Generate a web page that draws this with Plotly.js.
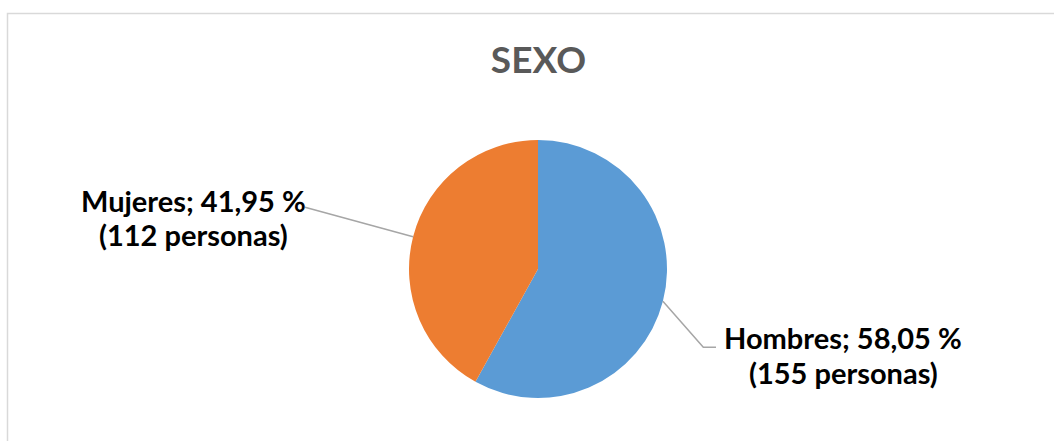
<!DOCTYPE html>
<html>
<head>
<meta charset="utf-8">
<script src="https://cdn.plot.ly/plotly-3.0.1.min.js"></script>
<style>
  html, body { margin: 0; padding: 0; background: #ffffff; }
  #chart { width: 1054px; height: 441px; }
</style>
</head>
<body>
<div id="chart"></div>
<script>
// ---- data ----
const chartTitle = "SEXO";
const categories = ["Hombres", "Mujeres"];
const counts = [155, 112];
const unitLabel = "personas";
const colors = ["#5B9BD5", "#ED7D31"];

// ---- layout helpers ----
const W = 1054, H = 441;
const px = v => v / W;
const py = v => 1 - v / H;

const cx = 538, cy = 269, R = 129;
const total = counts.reduce((a, b) => a + b, 0);
const pcts = counts.map(c => c / total * 100);
const fmtPct = p => p.toFixed(2).replace(".", ",") + " %";

// mid-angle of each slice (clockwise from 12 o'clock)
const midAngles = [];
let acc = 0;
counts.forEach(c => {
  const frac = c / total;
  midAngles.push((acc + frac / 2) * 2 * Math.PI);
  acc += frac;
});
const edgePt = a => [cx + R * Math.sin(a), cy - R * Math.cos(a)];

// label placement (style / position only)
const labelPos = [
  { x: 843, y1: 337, y2: 372, line: pt => [[pt[0], pt[1]], [703.3, 347.3], [716, 347.3]] },
  { x: 193.5, y1: 200, y2: 235, line: pt => [[pt[0], pt[1]], [305, 207.3]] }
];

const labelFont = { family: "Lato, 'Open Sans', sans-serif", size: 29, color: "#000000" };
const annotations = [];
categories.forEach((cat, i) => {
  const lines = [
    cat + "; " + fmtPct(pcts[i]),
    "(" + counts[i] + " " + unitLabel + ")"
  ];
  [labelPos[i].y1, labelPos[i].y2].forEach((yy, k) => {
    annotations.push({
      xref: "paper", yref: "paper",
      x: px(labelPos[i].x), y: py(yy),
      xanchor: "center", yanchor: "middle",
      showarrow: false, align: "center",
      text: "<b>" + lines[k] + "</b>",
      font: labelFont
    });
  });
});

const shapes = [];
// chart border
shapes.push({
  type: "rect", xref: "paper", yref: "paper",
  x0: px(7.5), x1: px(1060), y0: py(447), y1: py(13.5),
  line: { color: "#D9D9D9", width: 1.5 }, fillcolor: "rgba(0,0,0,0)", layer: "below"
});
// leader lines
categories.forEach((cat, i) => {
  const pts = labelPos[i].line(edgePt(midAngles[i]));
  const path = pts.map((p, k) => (k === 0 ? "M" : "L") + px(p[0]) + "," + py(p[1])).join(" ");
  shapes.push({
    type: "path", xref: "paper", yref: "paper", path: path,
    line: { color: "#A6A6A6", width: 1.5 }
  });
});

const trace = {
  type: "pie",
  labels: categories,
  values: counts,
  sort: false,
  direction: "clockwise",
  rotation: 0,
  textinfo: "none",
  hoverinfo: "label+percent+value",
  marker: { colors: colors, line: { width: 0 } },
  domain: { x: [px(cx - 200), px(cx + 200)], y: [py(cy + R), py(cy - R)] },
  showlegend: false
};

const layout = {
  width: W, height: H,
  margin: { l: 0, r: 0, t: 0, b: 0 },
  paper_bgcolor: "#ffffff",
  title: {
    text: "<b>" + chartTitle + "</b>",
    x: px(538.5), xanchor: "center",
    y: py(60.4), yanchor: "middle", yref: "container", xref: "container",
    font: { family: "Lato, 'Open Sans', sans-serif", size: 37, color: "#595959" }
  },
  showlegend: false,
  annotations: annotations,
  shapes: shapes
};

Plotly.newPlot("chart", [trace], layout, { displayModeBar: false, staticPlot: true });
</script>
</body>
</html>
